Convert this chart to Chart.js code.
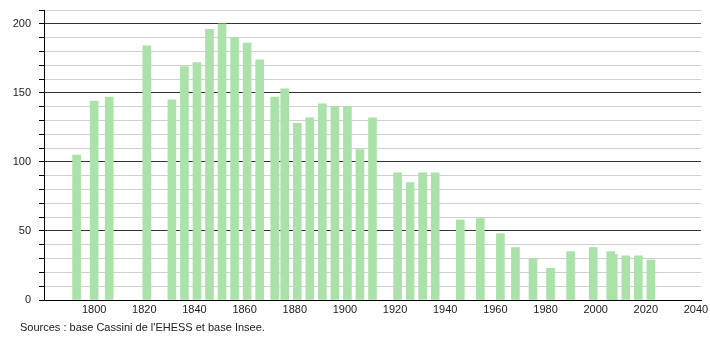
<!DOCTYPE html>
<html>
<head>
<meta charset="utf-8">
<script src="https://cdn.jsdelivr.net/npm/chart.js@4/dist/chart.umd.min.js"></script>
<style>
  body { margin: 0; background: #fff; }
  #wrap { position: relative; width: 710px; height: 340px; }
</style>
</head>
<body>
<div id="wrap"><canvas id="myChart" width="710" height="340"></canvas></div>
<script>
const ctx = document.getElementById('myChart');

// census years and population
var arrYears = [1793, 1800, 1806, 1821, 1831, 1836, 1841, 1846, 1851, 1856, 1861, 1866,
    1872, 1876, 1881, 1886, 1891, 1896, 1901, 1906, 1911, 1921, 1926, 1931, 1936,
    1946, 1954, 1962, 1968, 1975, 1982, 1990, 1999, 2006, 2007, 2012, 2017, 2022];
var arrPopulation = [105, 144, 147, 184, 145, 169, 172, 196, 200, 190, 186, 174,
    147, 153, 128, 132, 142, 140, 140, 109, 132, 92, 85, 92, 92,
    58, 59, 48, 38, 30, 23, 35, 38, 35, 33, 32, 32, 29];
var arrXTicks = [1800, 1820, 1840, 1860, 1880, 1900, 1920, 1940, 1960, 1980, 2000, 2020, 2040];
var arrYLabels = [0, 50, 100, 150, 200];
var sourceText = "Sources : base Cassini de l'EHESS et base Insee.";

var points = [];
arrYears.forEach(function(year, i) {
    points.push({ x: year, y: arrPopulation[i] });
});

// footer text under the chart
var sourcePlugin = {
    id: 'sourceText',
    afterDraw: function(chart) {
        var c = chart.ctx;
        c.save();
        c.font = '11px "Liberation Sans", Arial, sans-serif';
        c.fillStyle = '#222';
        c.textBaseline = 'middle';
        c.textAlign = 'left';
        c.fillText(sourceText, 20, 328);
        c.restore();
    }
};

function createChart(data) {
    new Chart(ctx, {
        type: 'bar',
        data: {
            datasets: [{
                label: 'Population',
                data: data,
                backgroundColor: 'rgb(170, 226, 170)',
                borderWidth: 0,
                barThickness: 8
            }]
        },
        options: {
            responsive: false,
            animation: false,
            layout: { padding: { left: 0, right: 9, top: 10, bottom: 20 } },
            plugins: {
                legend: { display: false },
                tooltip: { enabled: false }
            },
            scales: {
                x: {
                    type: 'linear',
                    offset: false,
                    min: 1780,
                    max: 2042,
                    afterBuildTicks: function(scale) {
                        scale.ticks = arrXTicks.map(function(v) { return { value: v }; });
                    },
                    afterFit: function(scale) {
                        scale.height = 20;
                        scale.paddingLeft = 0;
                        scale.paddingRight = 0;
                    },
                    grid: { display: false, drawTicks: false },
                    border: { color: '#000', width: 1 },
                    ticks: {
                        autoSkip: false,
                        maxRotation: 0,
                        padding: 3,
                        color: '#222',
                        font: { family: '"Liberation Sans", Arial, sans-serif', size: 11 },
                        callback: function(v) { return String(v); }
                    }
                },
                y: {
                    min: 0,
                    max: 210,
                    afterBuildTicks: function(scale) {
                        var t = [];
                        for (var v = 0; v <= 210; v += 10) t.push({ value: v });
                        scale.ticks = t;
                    },
                    afterFit: function(scale) {
                        scale.width = 44;
                        scale.paddingTop = 0;
                        scale.paddingBottom = 0;
                    },
                    grid: {
                        color: function(c) {
                            return c.tick.value % 50 === 0 ? '#333' : '#d0d0d0';
                        },
                        tickColor: '#000',
                        tickLength: 5,
                        lineWidth: 1
                    },
                    border: { color: '#000', width: 1 },
                    ticks: {
                        autoSkip: false,
                        padding: 8,
                        color: '#222',
                        font: { family: '"Liberation Sans", Arial, sans-serif', size: 11 },
                        callback: function(v) {
                            return arrYLabels.indexOf(v) >= 0 ? String(v) : '';
                        }
                    }
                }
            }
        },
        plugins: [sourcePlugin]
    });
}

createChart(points);
</script>
</body>
</html>
